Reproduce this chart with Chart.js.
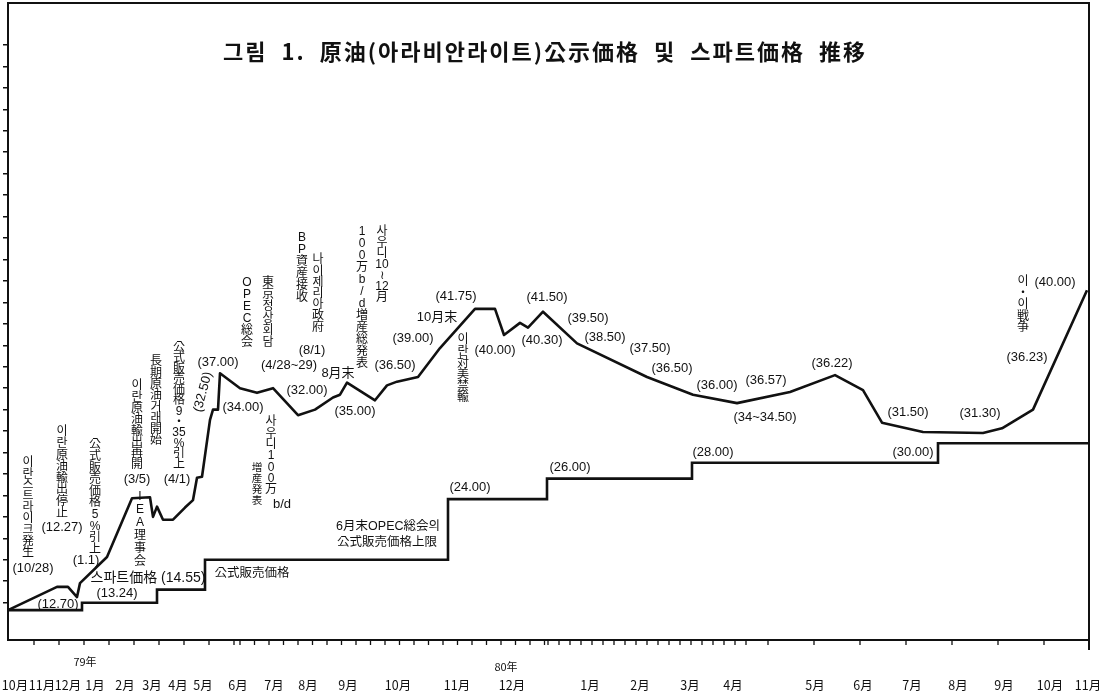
<!DOCTYPE html>
<html>
<head>
<meta charset="utf-8">
<script src="https://cdn.jsdelivr.net/npm/chart.js@4.4.1/dist/chart.umd.min.js"></script>
<style>
    html, body { margin: 0; padding: 0; background: #fff; }
</style>
</head>
<body>
<canvas id="grafico" width="1108" height="696"></canvas>
<script>
// posizioni lungo l'asse (asse disegnato a mano, mesi non uniformi) e prezzi
const spotPos = [0, 49, 60, 69, 72, 99, 124, 142, 145, 149, 155, 165, 177, 185, 189, 194, 202, 205, 210, 212,
    232, 249, 265, 290, 307, 325, 332, 339, 367, 379, 389, 410, 432, 467, 487, 496, 512, 520, 535, 569,
    639, 685, 729, 782, 827, 855, 874, 915, 975, 994, 1025, 1079];
const spotPrice = [12.2, 14.7, 14.7, 13.6, 15.1, 17.9, 24.2, 24.3, 22.2, 23.3, 21.9, 21.9, 23.2, 24.0, 26.4, 26.5, 32.6, 33.7, 33.7, 37.6,
    36.0, 35.5, 36.0, 33.1, 33.7, 35.0, 35.3, 36.6, 34.7, 36.3, 36.7, 37.2, 40.3, 44.5, 44.5, 41.7, 43.0, 42.5, 44.2, 40.8,
    37.2, 35.3, 34.4, 35.6, 37.4, 35.8, 32.3, 31.3, 31.2, 31.7, 33.7, 46.5];

const officialPos = [0, 74, 149, 197, 440, 539, 684, 930, 1081];
const officialPrice = [12.2, 13.0, 14.4, 17.6, 24.1, 26.3, 28.0, 30.1, 30.1];

const monthPos = [7, 34, 60, 87, 117, 144, 170, 195, 230, 266, 300, 340, 390, 449, 504,
    582, 632, 682, 725, 807, 855, 904, 950, 996, 1042, 1080];
const monthLabels = ['10月', '11月', '12月', '1月', '2月', '3月', '4月', '5月', '6月', '7月', '8月', '9月', '10月', '11月', '12月',
    '1月', '2月', '3月', '4月', '5月', '6月', '7月', '8月', '9月', '10月', '11月'];

const FONT = '"Liberation Sans", "Noto Sans CJK KR", sans-serif';
const CJK = '"Noto Sans CJK KR", sans-serif';

// etichette orizzontali: testo, x, y (pixel)
const etichette = [
    ['(10/28)', 33, 568], ['(12.70)', 58, 604], ['(12.27)', 62, 527], ['(1.1)', 86, 560],
    ['(13.24)', 117, 593], ['(3/5)', 137, 479], ['(4/1)', 177, 479],
    ['(37.00)', 218, 362], ['(34.00)', 243, 407], ['(4/28~29)', 289, 365], ['(8/1)', 312, 350],
    ['8月末', 338, 373], ['(32.00)', 307, 390], ['(35.00)', 355, 411], ['(36.50)', 395, 365],
    ['(39.00)', 413, 338], ['10月末', 437, 317], ['(41.75)', 456, 296], ['(40.00)', 495, 350],
    ['(41.50)', 547, 297], ['(40.30)', 542, 340], ['(39.50)', 588, 318], ['(38.50)', 605, 337],
    ['(37.50)', 650, 348], ['(36.50)', 672, 368], ['(36.00)', 717, 385], ['(36.57)', 766, 380],
    ['(34~34.50)', 765, 417], ['(36.22)', 832, 363], ['(31.50)', 908, 412], ['(31.30)', 980, 413],
    ['(36.23)', 1027, 357], ['(40.00)', 1055, 282], ['(30.00)', 913, 452], ['(28.00)', 713, 452],
    ['(26.00)', 570, 467], ['(24.00)', 470, 487], ['b/d', 282, 504]
];

// etichette verticali: caratteri separati da spazio, x, y del primo carattere, passo
const verticali = [
    ['이 란 스 트 라 이 크 発 生', 28, 463, 11.2],
    ['이 란 原 油 輸 出 停 止', 62, 432, 11.6],
    ['公 式 販 売 価 格 5 % 引 上', 95, 445, 11.6],
    ['이 란 原 油 輸 出 再 開', 137, 386, 11.3],
    ['長 期 原 油 거 래 開 始', 156, 362, 11.3],
    ['公 式 販 売 価 格 9 ・ 35 % 引 上', 179, 348, 10.6],
    ['I E A 理 事 会', 140, 497, 13],
    ['O P E C 総 会', 247, 283, 12],
    ['東 京 정 상 회 담', 268, 283, 12],
    ['B P 資 産 接 收', 302, 238, 12],
    ['나 이 제 리 아 政 府', 318, 260, 11.2],
    ['1 0 0 万 b / d 増 産 総 発 表', 362, 232, 12],
    ['사 우 디 10 ≀ 12 月', 382, 232, 11],
    ['사 우 디 1 0 0 万', 271, 422, 11.3],
    ['이 란 対 美 禁 輸', 463, 340, 11.6],
    ['이 ・ 이 戦 争', 1023, 282, 11.5]
];

// tacche secondarie dell'asse x (solo decorazione)
const tacche = [];
for (let p = 26; p < 230; p += 25) tacche.push(p);
for (let p = 232; p < 540; p += 14.5) tacche.push(p);
for (let p = 540; p < 745; p += 11) tacche.push(p);
for (let p = 760; p < 1081; p += 46) tacche.push(p);

const yTicks = [];
for (let i = 0; i < 27; i++) yTicks.push(13 + i * 2.3);

const bianco = {
    id: 'bianco',
    beforeDraw(chart) {
        const c = chart.ctx;
        c.save();
        c.fillStyle = '#fff';
        c.fillRect(0, 0, chart.width, chart.height);
        c.restore();
    }
};

const cornice = {
    id: 'cornice',
    afterDraw(chart) {
        const c = chart.ctx;
        const a = chart.chartArea;
        const sx = chart.scales.x;
        c.save();
        c.strokeStyle = '#111';
        c.lineWidth = 2;
        c.beginPath();
        c.moveTo(a.left, a.top);
        c.lineTo(a.right + 1, a.top);
        c.moveTo(a.right, a.top);
        c.lineTo(a.right, a.bottom + 10);
        c.stroke();

        // tacche asse x
        c.lineWidth = 1.3;
        c.beginPath();
        tacche.forEach(p => {
            const px = sx.getPixelForValue(p);
            c.moveTo(px, a.bottom);
            c.lineTo(px, a.bottom + 5);
        });
        c.stroke();

        c.fillStyle = '#111';
        c.textAlign = 'center';
        c.textBaseline = 'middle';

        // titolo
        c.font = 'bold 22px ' + CJK;
        c.letterSpacing = '2px';
        c.fillText('그림  1.  原油(아라비안라이트)公示価格  및  스파트価格  推移', 545, 52);
        c.letterSpacing = '0px';

        c.font = '11px ' + CJK;
        c.fillText('79年', 85, 662);
        c.fillText('80年', 506, 667);

        c.font = '13px ' + FONT;
        etichette.forEach(([t, x, y]) => c.fillText(t, x, y));

        c.font = '14px ' + FONT;
        c.fillText('스파트価格 (14.55)', 148, 578);
        c.font = '12.5px ' + FONT;
        c.fillText('公式販売価格', 252, 574);
        c.textAlign = 'right';
        c.fillText('6月末OPEC総会의', 440, 527);
        c.fillText('公式販売価格上限', 437, 543);
        c.textAlign = 'center';

        c.font = '12px ' + FONT;
        verticali.forEach(([t, x, y, passo]) => {
            t.split(' ').forEach((ch, i) => c.fillText(ch, x, y + i * passo));
        });
        c.font = '10.5px ' + FONT;
        '増 産 発 表'.split(' ').forEach((ch, i) => c.fillText(ch, 257, 468 + i * 11));

        // (32.50) ruotato
        c.font = '13px ' + FONT;
        c.translate(203, 392);
        c.rotate(-75 * Math.PI / 180);
        c.fillText('(32.50)', 0, 0);
        c.restore();
    }
};

const ctx = document.getElementById('grafico').getContext('2d');

new Chart(ctx, {
    type: 'line',
    data: {
        datasets: [{
            label: '스파트価格',
            data: spotPos.map((x, i) => ({ x: x, y: spotPrice[i] })),
            borderColor: '#111',
            borderWidth: 2.6,
            borderJoinStyle: 'round',
            pointRadius: 0,
            tension: 0
        }, {
            label: '公式販売価格',
            data: officialPos.map((x, i) => ({ x: x, y: officialPrice[i] })),
            borderColor: '#111',
            borderWidth: 2.6,
            stepped: 'before',
            pointRadius: 0
        }]
    },
    options: {
        responsive: false,
        animation: false,
        layout: { padding: { top: 3, right: 19, left: 0, bottom: 0 } },
        plugins: {
            legend: { display: false },
            tooltip: { enabled: false }
        },
        scales: {
            x: {
                type: 'linear',
                min: 0,
                max: 1081,
                afterBuildTicks: s => { s.ticks = monthPos.map(v => ({ value: v })); },
                afterFit: s => { s.height = 56; },
                ticks: {
                    callback: (v, i) => monthLabels[i],
                    font: { family: CJK, size: 12.5 },
                    color: '#111',
                    padding: 0,
                    maxRotation: 0,
                    autoSkip: false
                },
                grid: { drawOnChartArea: false, drawTicks: true, tickLength: 38, tickColor: 'rgba(0,0,0,0)' },
                border: { color: '#111', width: 2 }
            },
            y: {
                min: 9,
                max: 77.3,
                afterBuildTicks: s => { s.ticks = yTicks.map(v => ({ value: v })); },
                afterFit: s => { s.width = 8; },
                ticks: { display: false },
                grid: { drawOnChartArea: false, drawTicks: true, tickLength: 5, color: '#111', lineWidth: 1.5 },
                border: { color: '#111', width: 2 }
            }
        }
    },
    plugins: [bianco, cornice]
});
</script>
</body>
</html>
